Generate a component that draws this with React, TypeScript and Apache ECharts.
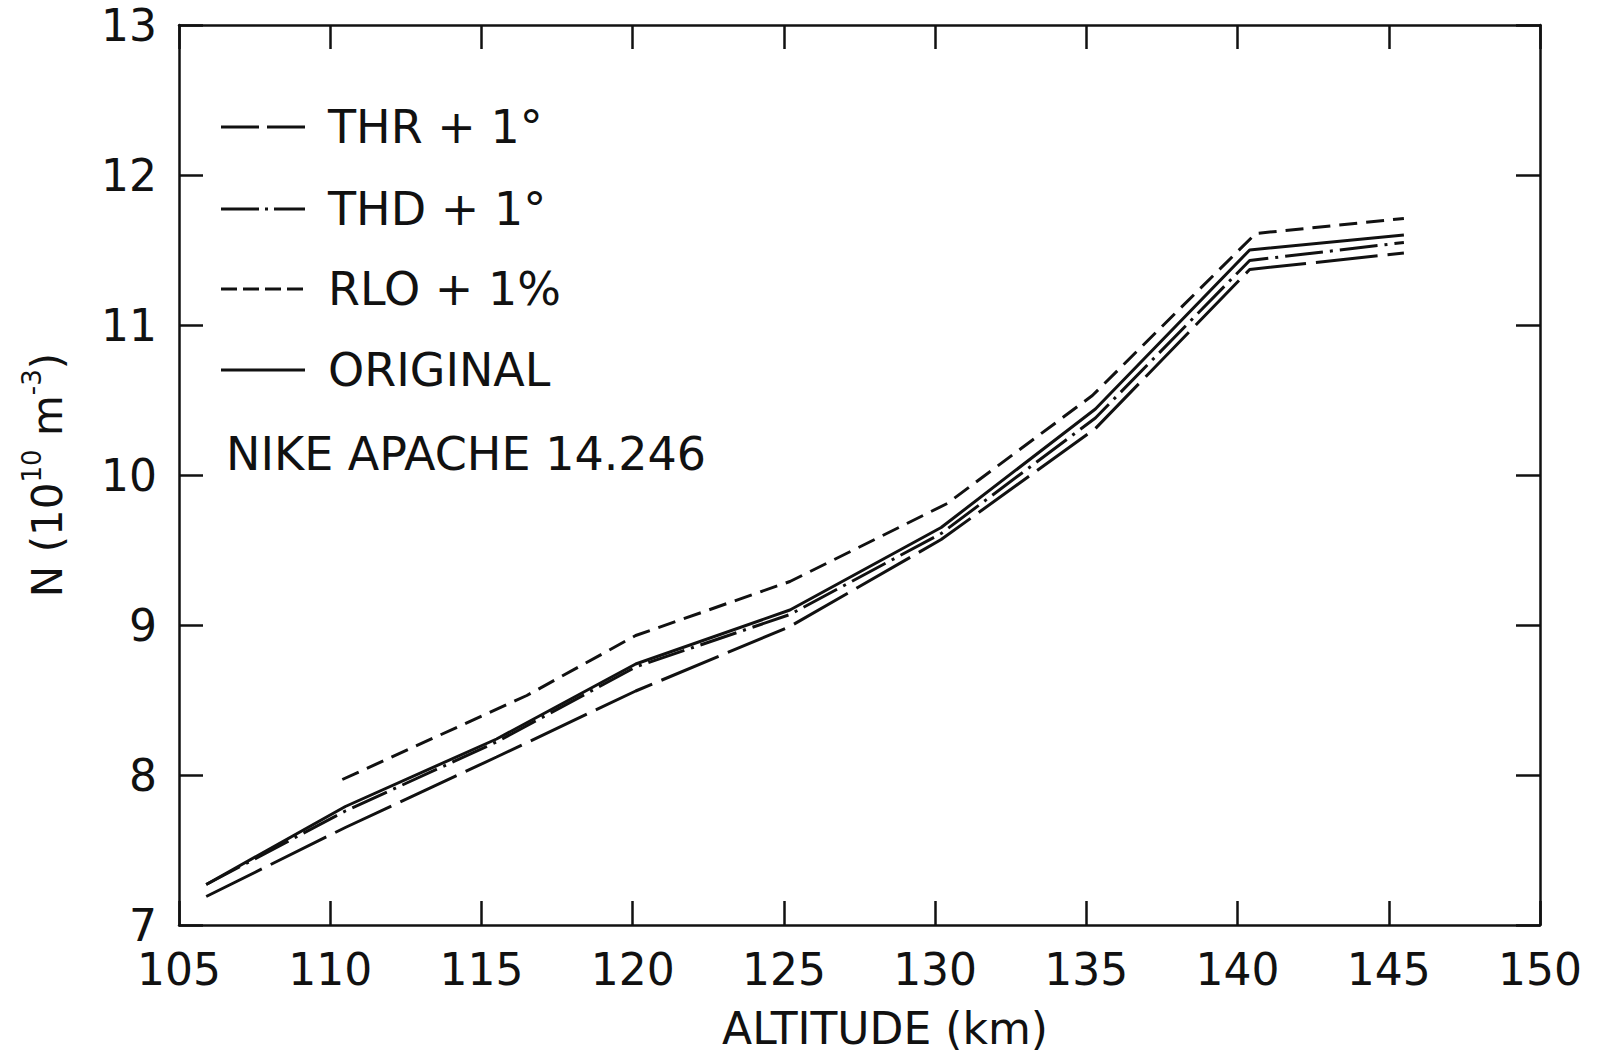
import React, { useEffect, useRef } from "react";
import * as echarts from "echarts";

const altitudes = [105.9, 110.5, 115.5, 120.1, 125.2, 130.2, 135.3, 140.4, 145.5];
const original = [7.27, 7.79, 8.24, 8.74, 9.1, 9.65, 10.44, 11.5, 11.6];
const thd = [7.27, 7.76, 8.22, 8.72, 9.07, 9.61, 10.38, 11.43, 11.55];
const thr = [7.19, 7.65, 8.12, 8.56, 8.99, 9.57, 10.31, 11.37, 11.48];
const rloAltitudes = [110.4, 116.5, 120.1, 125.2, 130.4, 135.2, 140.6, 145.5];
const rlo = [7.97, 8.53, 8.93, 9.29, 9.81, 10.53, 11.61, 11.71];

const legendLabels = ["THR + 1°", "THD + 1°", "RLO + 1%", "ORIGINAL"];
const noteLabel = "NIKE APACHE 14.246";

const FONT = "DejaVu Sans";
const INK = "#111";

const dashTHR = [62, 10];
const dashTHD = [38, 7, 3, 7];
const dashRLO = [18, 9];

export default function App() {
  const ref = useRef<HTMLDivElement>(null);
  useEffect(() => {
    if (!ref.current) return;
    const chart = echarts.init(ref.current, null, { renderer: "svg" });
    const pair = (xs: number[], ys: number[]) => xs.map((x, i) => [x, ys[i]]);
    const legendDash = [[38, 8], [38, 6, 3, 6], [16, 6], null];
    const legendY = [127, 209, 289, 370];
    const graphic: any[] = [];
    legendLabels.forEach((lab, i) => {
      graphic.push({
        type: "line",
        shape: { x1: 221, y1: legendY[i], x2: 305, y2: legendY[i] },
        style: { stroke: INK, lineWidth: 3, lineDash: legendDash[i] || undefined },
      });
      graphic.push({
        type: "text",
        x: 328,
        y: legendY[i],
        style: { text: lab, font: `46px "${FONT}"`, fill: INK, verticalAlign: "middle", align: "left" },
      });
    });
    graphic.push({
      type: "text",
      x: 226,
      y: 454,
      style: { text: noteLabel, font: `46px "${FONT}"`, fill: INK, verticalAlign: "middle", align: "left" },
    });
    graphic.push({
      type: "text",
      x: 885,
      y: 1028,
      style: { text: "ALTITUDE (km)", font: `44px "${FONT}"`, fill: INK, verticalAlign: "middle", align: "center" },
    });

    const axisCommon = {
      axisLine: { show: true, lineStyle: { color: INK, width: 2.5 } },
      axisTick: { show: true, inside: true, length: 24, lineStyle: { color: INK, width: 2.5 } },
      splitLine: { show: false },
    };

    chart.setOption({
      animation: false,
      backgroundColor: "#fff",
      grid: { left: 179, top: 25, width: 1361, height: 900, containLabel: false, outerBoundsMode: "none" },
      xAxis: [
        {
          type: "value",
          min: 105,
          max: 150,
          interval: 5,
          position: "bottom",
          ...axisCommon,
          axisLabel: { color: INK, fontSize: 44, fontFamily: FONT, margin: 22 },
        },
        {
          type: "value",
          min: 105,
          max: 150,
          interval: 5,
          position: "top",
          ...axisCommon,
          axisLabel: { show: false },
        },
      ],
      yAxis: [
        {
          type: "value",
          min: 7,
          max: 13,
          interval: 1,
          position: "left",
          ...axisCommon,
          axisLabel: { color: INK, fontSize: 44, fontFamily: FONT, margin: 22, lineHeight: 44 },
          name: "N (10{sup|10} m{sup|-3})",
          nameLocation: "middle",
          nameRotate: 90,
          nameGap: 104,
          nameTextStyle: {
            color: INK,
            fontSize: 42,
            fontFamily: FONT,
            lineHeight: 56,
            rich: {
              sup: { fontSize: 26, fontFamily: FONT, color: INK, verticalAlign: "top", lineHeight: 56 },
            },
          },
        },
        {
          type: "value",
          min: 7,
          max: 13,
          interval: 1,
          position: "right",
          ...axisCommon,
          axisLabel: { show: false },
        },
      ],
      graphic,
      series: [
        {
          name: legendLabels[0],
          type: "line",
          data: pair(altitudes, thr),
          showSymbol: false,
          lineStyle: { color: INK, width: 3, type: dashTHR },
        },
        {
          name: legendLabels[1],
          type: "line",
          data: pair(altitudes, thd),
          showSymbol: false,
          lineStyle: { color: INK, width: 3, type: dashTHD },
        },
        {
          name: legendLabels[2],
          type: "line",
          data: pair(rloAltitudes, rlo),
          showSymbol: false,
          lineStyle: { color: INK, width: 3, type: dashRLO },
        },
        {
          name: legendLabels[3],
          type: "line",
          data: pair(altitudes, original),
          showSymbol: false,
          lineStyle: { color: INK, width: 3, type: "solid" },
        },
      ],
    });
    return () => chart.dispose();
  }, []);
  return (
    <div
      ref={ref}
      style={{ position: "fixed", left: 0, top: 0, width: 1598, height: 1056, background: "#fff" }}
    />
  );
}
